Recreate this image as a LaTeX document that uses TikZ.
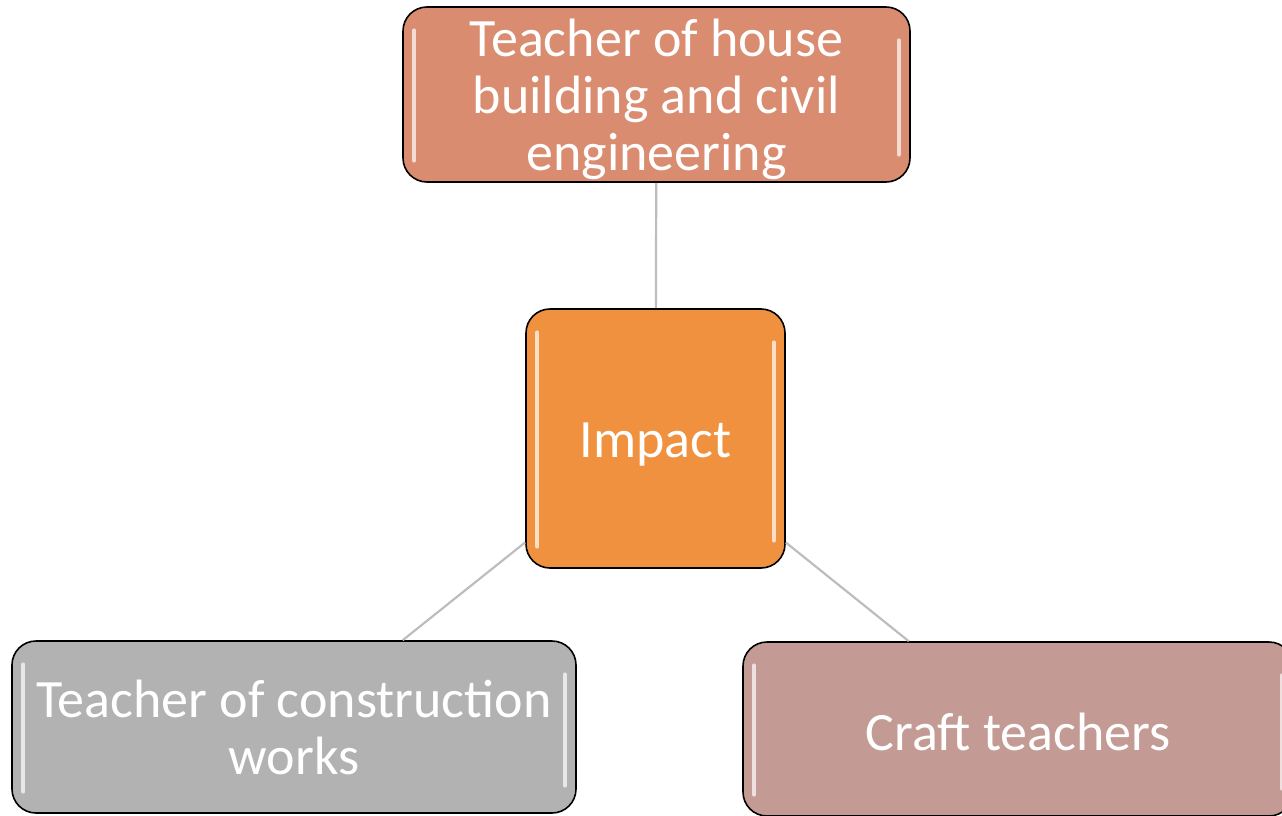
\documentclass[tikz,border=0pt]{standalone}
\usepackage{fontspec}
\setmainfont{Carlito}
\usetikzlibrary{calc}
\definecolor{topc}{HTML}{D98C70}
\definecolor{midc}{HTML}{F0913F}
\definecolor{leftc}{HTML}{B2B2B2}
\definecolor{rightc}{HTML}{C49A94}
\definecolor{linkc}{HTML}{BDBDBD}
\tikzset{
  box/.style={draw=black, line width=1.6pt, rounded corners=24pt, text=white,
    align=center, inner sep=0pt, font=\fontsize{54}{57}\selectfont},
  link/.style={draw=linkc, line width=2.2pt},
  hl/.style={draw=white, line width=3.5pt, line cap=round, opacity=0.7}
}
\begin{document}
\begin{tikzpicture}[x=1pt,y=1pt]
\useasboundingbox (0,0) rectangle (1282,-816);
\node[box, fill=topc, minimum width=507pt, minimum height=175pt] (t) at (656.5,-94.5) {};
\node[text=white, align=center, inner sep=0pt, font=\fontsize{54}{57}\selectfont] (tt) at (656.5,-99)
  {Teacher of house\\building and civil\\engineering};
\node[box, fill=midc, minimum width=259pt, minimum height=259pt] (c) at (655.5,-438.5) {\raisebox{-6pt}[\height][\depth]{Impact}};
\node[box, fill=leftc, minimum width=564pt, minimum height=172pt] (l) at (294,-727)
  {Teacher of construction\\works};
\node[box, fill=rightc, minimum width=550pt, minimum height=174pt] (r) at (1018,-729) {\raisebox{-3pt}[\height][\depth]{Craft teachers}};
\draw[link] (t) -- (c);
\draw[link] (c) -- (l);
\draw[link] (c) -- (r);
\foreach \n in {t,c,l,r}{
  \draw[hl] ([xshift=12pt,yshift=-24pt]\n.north west) -- ([xshift=12pt,yshift=22pt]\n.south west);
  \draw[hl] ([xshift=-12pt,yshift=-34pt]\n.north east) -- ([xshift=-12pt,yshift=28pt]\n.south east);
}
\end{tikzpicture}
\end{document}
